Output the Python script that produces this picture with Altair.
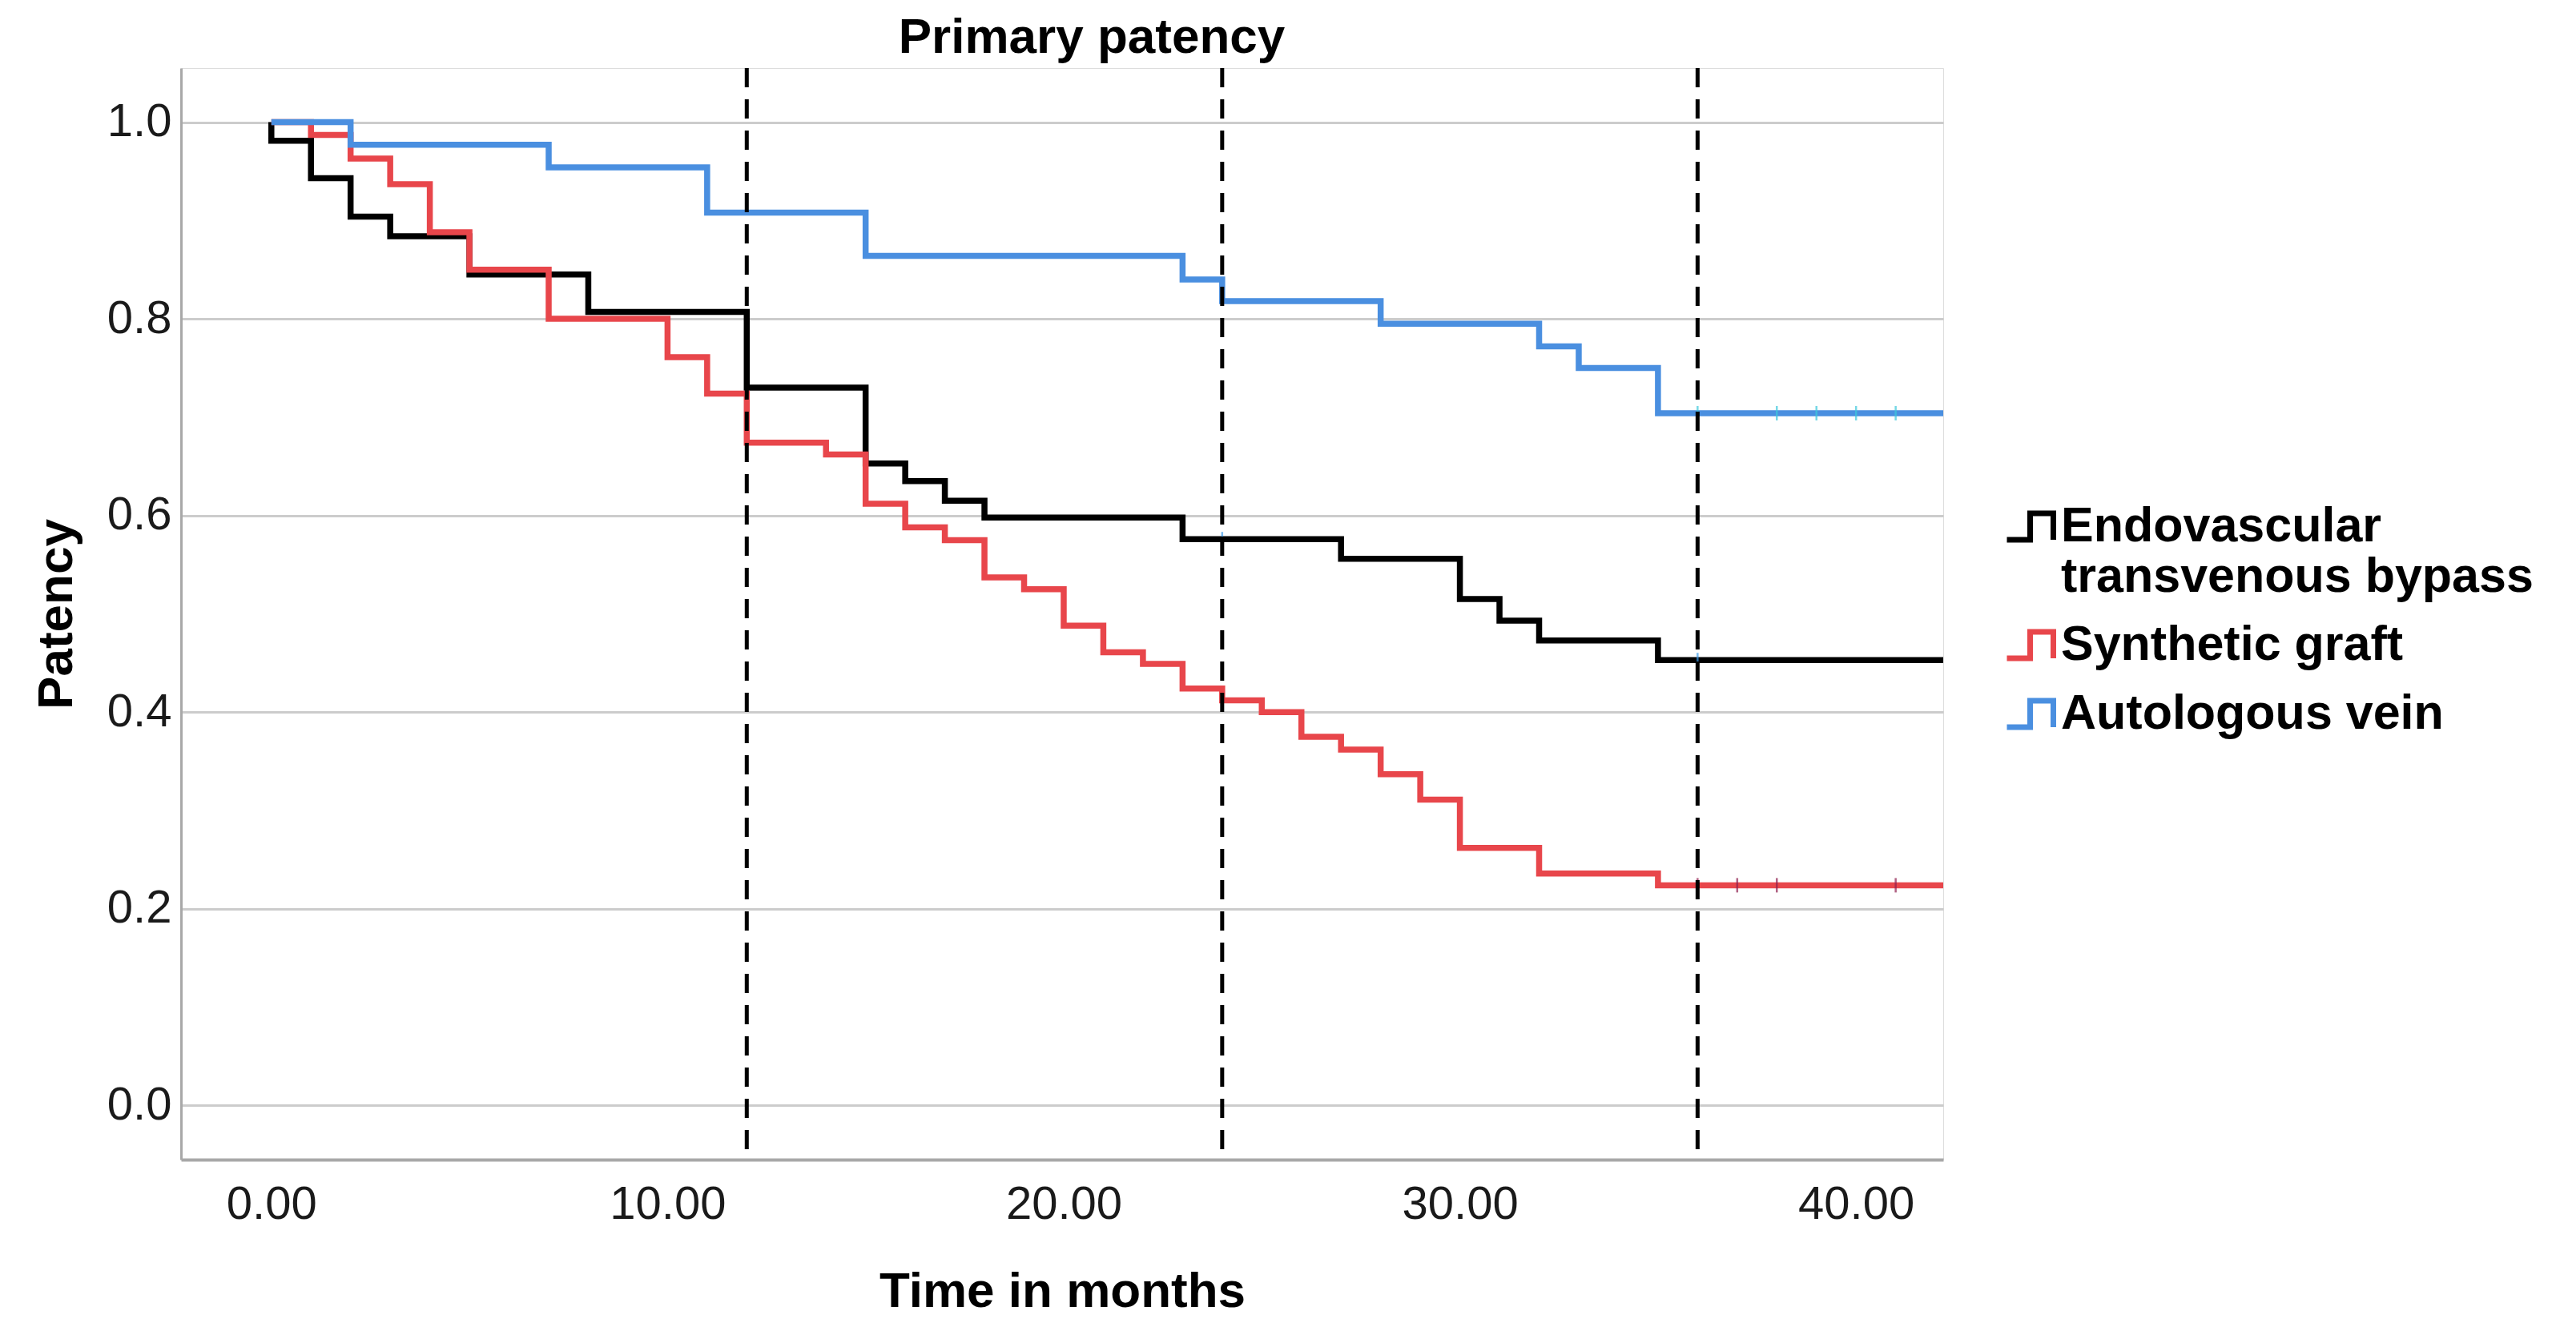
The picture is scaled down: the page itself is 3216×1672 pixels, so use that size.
import altair as alt
import pandas as pd

# ---- data ----
series_names = ["Endovascular transvenous bypass", "Synthetic graft", "Autologous vein"]
series_colors = ["#000000", "#E8464B", "#4A8FE0"]

endo_t = [0, 0, 1, 2, 3, 5, 8, 12, 15, 16, 17, 18, 23, 27, 30, 31, 32, 35, 42.2]
endo_v = [1.0, 0.981, 0.943, 0.904, 0.884, 0.845, 0.807, 0.730, 0.653, 0.635, 0.615,
          0.598, 0.576, 0.556, 0.515, 0.493, 0.473, 0.453, 0.453]

synth_t = [0, 1, 2, 3, 4, 5, 7, 10, 11, 12, 14, 15, 16, 17, 18, 19, 20, 21, 22, 23, 24,
           25, 26, 27, 28, 29, 30, 32, 35, 42.2]
synth_v = [1.0, 0.987, 0.963, 0.937, 0.888, 0.850, 0.800, 0.761, 0.724, 0.674, 0.662,
           0.612, 0.588, 0.575, 0.537, 0.525, 0.488, 0.461, 0.449, 0.424, 0.412, 0.400,
           0.375, 0.362, 0.337, 0.311, 0.262, 0.236, 0.224, 0.224]

auto_t = [0, 2, 7, 11, 15, 23, 24, 28, 32, 33, 35, 42.2]
auto_v = [1.0, 0.977, 0.954, 0.908, 0.864, 0.840, 0.818, 0.795, 0.772, 0.750, 0.704, 0.704]

# censored observations (small tick marks)
endo_cens_t = [24, 36]
endo_cens_v = [0.576, 0.453]
synth_cens_t = [36, 37, 38, 41]
synth_cens_v = [0.224, 0.224, 0.224, 0.224]
auto_cens_t = [36, 38, 39, 40, 41]
auto_cens_v = [0.704, 0.704, 0.704, 0.704, 0.704]
cens_colors = ["#3D9BE9", "#8E1F4F", "#3CC8DC"]

milestones = [12, 24, 36]
x_ticks = [0, 10, 20, 30, 40]
y_ticks = [0.0, 0.2, 0.4, 0.6, 0.8, 1.0]

# ---- tables ----
rows = []
for name, ts, vs in zip(series_names, [endo_t, synth_t, auto_t], [endo_v, synth_v, auto_v]):
    for i, (t, v) in enumerate(zip(ts, vs)):
        rows.append({"time": t, "patency": v, "group": name, "order": i})
curves = pd.DataFrame(rows)

crows = []
for name, ts, vs, c in zip(series_names, [endo_cens_t, synth_cens_t, auto_cens_t],
                           [endo_cens_v, synth_cens_v, auto_cens_v], cens_colors):
    for t, v in zip(ts, vs):
        crows.append({"time": t, "patency": v, "group": name, "ccol": c})
cens = pd.DataFrame(crows)

ms = pd.DataFrame({"time": milestones})

FONT = "Liberation Sans"

x_scale = alt.Scale(domain=[-2.28, 42.2], nice=False, zero=False)
y_scale = alt.Scale(domain=[-0.055, 1.055], nice=False, zero=False)

x_axis = alt.Axis(values=x_ticks, format=".2f", grid=False, ticks=False,
                  domainColor="#a8a8a8", domainWidth=4,
                  labelFontSize=58, labelFont=FONT, labelColor="#1a1a1a", labelPadding=27,
                  title="Time in months", titleFontSize=62, titleFont=FONT,
                  titleFontWeight="bold", titleColor="#000000", titlePadding=49)
y_axis = alt.Axis(values=y_ticks, format=".1f", grid=True, gridColor="#cccccc", gridWidth=3,
                  ticks=False, domainColor="#a8a8a8", domainWidth=3,
                  labelFontSize=58, labelFont=FONT, labelColor="#1a1a1a", labelPadding=12,
                  title="Patency", titleFontSize=62, titleFont=FONT,
                  titleFontWeight="bold", titleColor="#000000", titlePadding=31)

legend = alt.Legend(
    orient="none", legendX=2276, legendY=540, title=None,
    labelFontSize=61, labelFont=FONT, labelFontWeight="bold", labelColor="#000000",
    labelLimit=0, labelOffset=6, labelBaseline="middle",
    symbolType="M-1,0.57H0V-0.57H1V0.57", symbolSize=3364, symbolStrokeWidth=7,
    symbolFillColor="transparent", rowPadding=22,
    labelExpr="datum.label == 'Endovascular transvenous bypass' ? ['Endovascular', 'transvenous bypass'] : datum.label",
)

lines = alt.Chart(curves).mark_line(interpolate="step-after", strokeWidth=7.5).encode(
    x=alt.X("time:Q", scale=x_scale, axis=x_axis),
    y=alt.Y("patency:Q", scale=y_scale, axis=y_axis),
    color=alt.Color("group:N", scale=alt.Scale(domain=series_names, range=series_colors),
                    legend=legend, sort=series_names),
    order=alt.Order("order:Q"),
)

ticks = alt.Chart(cens).mark_tick(orient="vertical", size=18, thickness=2.5).encode(
    x=alt.X("time:Q", scale=x_scale),
    y=alt.Y("patency:Q", scale=y_scale),
    color=alt.Color("ccol:N", scale=None, legend=None),
)

rules = alt.Chart(ms).mark_rule(strokeDash=[24, 15], strokeWidth=5, color="#000000").encode(
    x=alt.X("time:Q", scale=x_scale),
)

chart = alt.layer(lines, ticks, rules).properties(
    width=2200, height=1363,
    title=alt.Title("Primary patency", fontSize=62, font=FONT, fontWeight="bold",
                    color="#000000", anchor="middle", offset=4, dx=37),
    padding={"left": 218, "top": 77, "right": 760, "bottom": 200},
    autosize="none",
    background="#ffffff",
).configure_view(strokeWidth=0, stroke="transparent").configure(font=FONT)

chart.save("out.html", embed_options={"renderer": "svg", "actions": False})
